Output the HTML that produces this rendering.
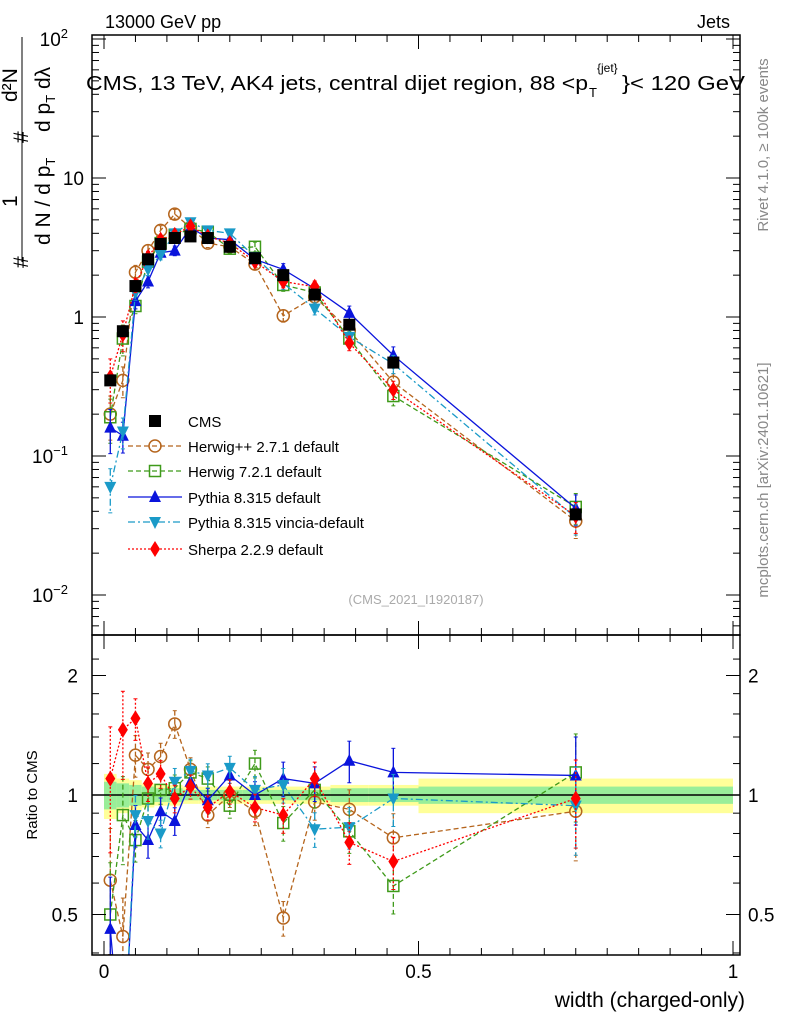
<!DOCTYPE html>
<html><head><meta charset="utf-8"><style>
html,body{margin:0;padding:0;background:#fff;overflow:hidden;width:786px;height:1024px}
svg{font-family:"Liberation Sans",sans-serif;display:block}
</style></head><body>
<svg id="c" width="786" height="1024" viewBox="0 0 786 1024" xmlns="http://www.w3.org/2000/svg">
<defs>
<clipPath id="cm"><rect x="92" y="35" width="648" height="600"/></clipPath>
<clipPath id="cr"><rect x="92" y="635" width="648" height="320"/></clipPath>
</defs>
<text x="105" y="28" font-size="18">13000 GeV pp</text>
<text x="730" y="28" font-size="18" text-anchor="end">Jets</text>
<g font-size="20">
<text x="86" y="90" textLength="502" lengthAdjust="spacingAndGlyphs">CMS, 13 TeV, AK4 jets, central dijet region, 88 &lt;p</text>
<text x="589" y="97" font-size="13">T</text>
<text x="597" y="72" font-size="12">{jet}</text>
<text x="622" y="90" textLength="123" lengthAdjust="spacingAndGlyphs">}&lt; 120 GeV</text>
</g>
<g transform="rotate(-90)" font-size="21">
<text x="-268" y="28">#</text>
<text x="-207" y="17">1</text>
<line x1="-262" y1="22" x2="-37" y2="22" stroke="#000" stroke-width="1"/>
<text x="-245" y="50">d N / d p<tspan font-size="13" dy="5">T</tspan></text>
<text x="-143" y="28">#</text>
<text x="-102" y="17">d²N</text>
<text x="-132" y="50">d p<tspan font-size="13" dy="5">T</tspan><tspan dy="-5"> dλ</tspan></text>
</g>
<text transform="translate(768,145) rotate(-90)" font-size="15" fill="#888" text-anchor="middle">Rivet 4.1.0, ≥ 100k events</text>
<text transform="translate(768,480) rotate(-90)" font-size="15" fill="#888" text-anchor="middle">mcplots.cern.ch [arXiv:2401.10621]</text>
<text x="416" y="604" font-size="13" fill="#aaa" text-anchor="middle">(CMS_2021_I1920187)</text>
<text transform="translate(37,795) rotate(-90)" font-size="15" text-anchor="middle">Ratio to CMS</text>
<text x="745" y="1007" font-size="21" text-anchor="end">width (charged-only)</text>
<g id="bands" clip-path="url(#cr)"></g>
<g id="main" clip-path="url(#cm)"></g>
<g id="ratio" clip-path="url(#cr)"></g>
<g id="axes"></g>
<g id="legend"></g>
</svg>
<script>
const xs=[0.01,0.03,0.05,0.07,0.09,0.1125,0.1375,0.165,0.2,0.24,0.285,0.335,0.39,0.46,0.75];
const binEdges=[0,0.02,0.04,0.06,0.08,0.1,0.125,0.15,0.18,0.22,0.26,0.31,0.36,0.42,0.5,1.0];
const cmsVals=[0.35,0.79,1.67,2.6,3.35,3.7,3.8,3.7,3.2,2.65,2.0,1.45,0.88,0.47,0.038];
const bandYellow=[0.13,0.10,0.09,0.07,0.06,0.06,0.05,0.05,0.05,0.05,0.05,0.05,0.06,0.06,0.1];
const bandGreen=[0.08,0.07,0.06,0.05,0.04,0.04,0.03,0.03,0.03,0.03,0.03,0.03,0.04,0.04,0.05];
const hppVals=[0.2,0.35,2.1,3.0,4.2,5.5,4.4,3.4,3.2,2.4,1.02,1.4,0.8,0.34,0.034];
const hppRatio=[0.61,0.44,1.26,1.16,1.25,1.51,1.16,0.89,1.0,0.91,0.49,0.96,0.92,0.78,0.91];
const h7Vals=[0.19,0.7,1.2,2.5,3.4,3.9,4.3,4.1,3.1,3.2,1.7,1.5,0.7,0.27,0.043];
const h7Ratio=[0.50,0.89,0.77,0.98,1.03,1.04,1.14,1.10,0.94,1.2,0.85,1.03,0.81,0.59,1.14];
const pyVals=[0.16,0.14,1.3,1.8,2.9,3.0,4.4,3.7,3.6,2.6,2.2,1.6,1.07,0.53,0.042];
const pyRatio=[0.46,0.2,0.84,0.77,0.91,0.86,1.08,0.97,1.12,1.0,1.1,1.07,1.22,1.14,1.12];
const vinVals=[0.06,0.15,1.5,2.2,2.8,4.0,4.8,4.2,4.0,2.7,1.75,1.15,0.72,0.46,0.036];
const vinRatio=[0.17,0.2,0.89,0.86,0.8,1.08,1.15,1.12,1.17,1.03,1.06,0.82,0.83,0.98,0.94];
const shVals=[0.37,0.75,1.7,2.7,3.6,3.9,4.5,3.8,3.4,2.5,1.8,1.65,0.65,0.3,0.037];
const shRatio=[1.1,1.46,1.56,1.07,1.13,0.98,1.05,0.93,1.02,0.93,0.89,1.1,0.76,0.68,0.98];
const relErr=[0.35,0.25,0.12,0.1,0.08,0.08,0.07,0.07,0.07,0.08,0.1,0.1,0.12,0.15,0.25];

const NS="http://www.w3.org/2000/svg";
const X0=92,X1=740;
const xPix=v=>104+629*v;
const yMain=v=>317-139*Math.log10(v);
const yRat=r=>795-119.5*Math.log2(r);
function el(tag,attrs,parent){const e=document.createElementNS(NS,tag);for(const k in attrs)e.setAttribute(k,attrs[k]);parent.appendChild(e);return e;}
const gB=document.getElementById('bands'),gM=document.getElementById('main'),gR=document.getElementById('ratio'),gA=document.getElementById('axes'),gL=document.getElementById('legend');

for(let i=0;i<xs.length;i++){
  const x1=xPix(binEdges[i]),x2=xPix(binEdges[i+1]);
  const y=el('rect',{x:x1,y:yRat(1+bandYellow[i]),width:x2-x1,height:yRat(1-bandYellow[i])-yRat(1+bandYellow[i]),fill:'#ffff99'},gB);
  
  
  const g=el('rect',{x:x1,y:yRat(1+bandGreen[i]),width:x2-x1,height:yRat(1-bandGreen[i])-yRat(1+bandGreen[i]),fill:'#99ee99'},gB);
  
  
}
el('line',{x1:X0,x2:X1,y1:795,y2:795,stroke:'#000','stroke-width':1.5},gB);

function marker(type,x,y,col,parent,name){
  let m;
  if(type==='sq') m=el('rect',{x:x-6,y:y-6,width:12,height:12,fill:col},parent);
  else if(type==='osq') m=el('rect',{x:x-5.5,y:y-5.5,width:11,height:11,fill:'none',stroke:col,'stroke-width':1.5},parent);
  else if(type==='oc') m=el('circle',{cx:x,cy:y,r:6,fill:'none',stroke:col,'stroke-width':1.5},parent);
  else if(type==='tu') m=el('polygon',{points:`${x},${y-7} ${x-6},${y+5} ${x+6},${y+5}`,fill:col},parent);
  else if(type==='td') m=el('polygon',{points:`${x},${y+7} ${x-6},${y-5} ${x+6},${y-5}`,fill:col},parent);
  else m=el('polygon',{points:`${x},${y-8} ${x-5},${y} ${x},${y+8} ${x+5},${y}`,fill:col},parent);
  
  
  return m;
}
const series=[
 {name:'herwigpp',vals:hppVals,rat:hppRatio,col:'#b5651d',dash:'5,3',m:'oc',label:'Herwig++ 2.7.1 default'},
 {name:'herwig7',vals:h7Vals,rat:h7Ratio,col:'#3f9a1a',dash:'5,3',m:'osq',label:'Herwig 7.2.1 default'},
 {name:'pythia',vals:pyVals,rat:pyRatio,col:'#0a14dc',dash:'',m:'tu',label:'Pythia 8.315 default'},
 {name:'vincia',vals:vinVals,rat:vinRatio,col:'#1a9ac8',dash:'7,3,2,3',m:'td',label:'Pythia 8.315 vincia-default'},
 {name:'sherpa',vals:shVals,rat:shRatio,col:'#ff0000',dash:'2,2',m:'di',label:'Sherpa 2.2.9 default'}
];
function drawSeries(s,vals,yf,g,tag){
  const pts=xs.map((x,i)=>xPix(x)+','+yf(vals[i])).join(' ');
  const l=el('polyline',{points:pts,fill:'none',stroke:s.col,'stroke-width':1.3,'stroke-dasharray':s.dash},g);
  
  
  xs.forEach((x,i)=>{
    const px=xPix(x),e=relErr[i];
    const ya=yf(vals[i]*(1+e)),yb=yf(vals[i]*Math.max(0.05,1-e));
    el('line',{x1:px,x2:px,y1:ya,y2:yb,stroke:s.col,'stroke-width':1.3,'stroke-dasharray':s.dash},g);
    el('line',{x1:px-2,x2:px+2,y1:ya,y2:ya,stroke:s.col},g);
    el('line',{x1:px-2,x2:px+2,y1:yb,y2:yb,stroke:s.col},g);
    marker(s.m,px,yf(vals[i]),s.col,g,s.name+'-'+tag+'-point');
  });
}
series.forEach(s=>{drawSeries(s,s.vals,yMain,gM,'main');drawSeries(s,s.rat,yRat,gR,'ratio');});
xs.forEach((x,i)=>{
  const px=xPix(x);
  el('line',{x1:px,x2:px,y1:yMain(cmsVals[i]*1.05),y2:yMain(cmsVals[i]*0.95),stroke:'#000'},gM);
  marker('sq',px,yMain(cmsVals[i]),'#000',gM,'cms-point');
});

const f1=el('rect',{x:X0,y:35,width:X1-X0,height:600,fill:'none',stroke:'#000','stroke-width':1.5},gA);


const f2=el('rect',{x:X0,y:635,width:X1-X0,height:320,fill:'none',stroke:'#000','stroke-width':1.5},gA);


for(let d=-3;d<=2;d++)for(let k=1;k<10;k++){
  const v=k*Math.pow(10,d),y=yMain(v);
  if(y<35||y>635)continue;
  const L=k===1?14:7;
  el('line',{x1:X0,x2:X0+L,y1:y,y2:y,stroke:'#000'},gA);
  el('line',{x1:X1,x2:X1-L,y1:y,y2:y,stroke:'#000'},gA);
}
const mLab=[[100,'10','2'],[10,'10',''],[1,'1',''],[0.1,'10','−1'],[0.01,'10','−2']];
mLab.forEach(([v,b,e])=>{
  const t=el('text',{x:e?68:84,y:yMain(v)+7,'font-size':19,'text-anchor':'end'},gA);
  t.textContent=b;
  
  
  if(e){const s=el('tspan',{dy:-8,'font-size':13},t);s.textContent=e;}
});
[0.4,0.5,0.6,0.7,0.8,0.9,1,1.2,1.4,1.6,1.8,2,2.2].forEach(r=>{
  const y=yRat(r);if(y<635||y>955)return;
  const L=(r===0.5||r===1||r===2)?14:7;
  el('line',{x1:X0,x2:X0+L,y1:y,y2:y,stroke:'#000'},gA);
  el('line',{x1:X1,x2:X1-L,y1:y,y2:y,stroke:'#000'},gA);
});
[[2,'2'],[1,'1'],[0.5,'0.5']].forEach(([r,s])=>{
  for(const [x,a] of [[78,'end'],[748,'start']]){
    const t=el('text',{x:x,y:yRat(r)+7,'font-size':19,'text-anchor':a},gA);
    t.textContent=s;
    
    
  }
});
for(let i=0;i<=20;i++){
  const v=i*0.05,x=xPix(v);if(x>X1)continue;
  const L=i%10===0?14:7;
  el('line',{x1:x,x2:x,y1:955,y2:955-L,stroke:'#000'},gA);
  el('line',{x1:x,x2:x,y1:635,y2:635+L,stroke:'#000'},gA);
  el('line',{x1:x,x2:x,y1:35,y2:35+L,stroke:'#000'},gA);
  el('line',{x1:x,x2:x,y1:635,y2:635-L,stroke:'#000'},gA);
}
[[0,'0'],[0.5,'0.5'],[1,'1']].forEach(([v,s])=>{
  const t=el('text',{x:xPix(v),y:978,'font-size':19,'text-anchor':'middle'},gA);
  t.textContent=s;
  
  
});
const ly=[421,446,471,497,522,549];
marker('sq',155,ly[0],'#000',gL,'legend-cms-marker');
const t0=el('text',{x:188,y:ly[0]+6,'font-size':15},gL);t0.textContent='CMS';


series.forEach((s,i)=>{
  const y=ly[i+1];
  el('line',{x1:128,x2:182,y1:y,y2:y,stroke:s.col,'stroke-width':1.3,'stroke-dasharray':s.dash},gL);
  marker(s.m,155,y,s.col,gL,'legend-'+s.name+'-marker');
  const t=el('text',{x:188,y:y+6,'font-size':15},gL);t.textContent=s.label;
  
  
});
</script>
</body></html>
